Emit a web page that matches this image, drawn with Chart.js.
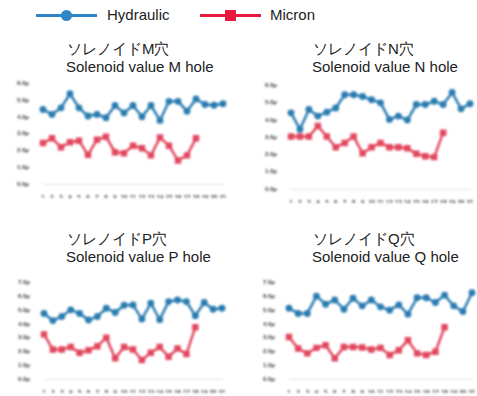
<!DOCTYPE html>
<html>
<head>
<meta charset="utf-8">
<script src="https://cdn.jsdelivr.net/npm/chart.js@4/dist/chart.umd.min.js"></script>
<style>
    body { margin: 0; width: 477px; height: 396px; background: #fff; position: relative; overflow: hidden;
           font-family: "Liberation Sans", Arial, sans-serif; color: #222; }
    .legend-item { position: absolute; top: 5px; height: 20px; }
    .legend-line { position: absolute; top: 9px; height: 3px; width: 61px; }
    .legend-mark { position: absolute; }
    .legend-text { position: absolute; top: 1px; font-size: 15px; white-space: nowrap; }
    .title { position: absolute; font-size: 15px; line-height: 18px; white-space: nowrap; }
    .title span { display: block; }
    .title .en { margin-left: -1px; }
    canvas.panel { position: absolute; filter: blur(0.85px); }
</style>
</head>
<body>

<div class="legend-item" style="left:36px">
    <div class="legend-line" style="background:#2e86c8"></div>
    <div class="legend-mark" style="left:25px;top:5px;width:11px;height:11px;border-radius:50%;background:#2e86c8"></div>
    <div class="legend-text" style="left:71px">Hydraulic</div>
</div>
<div class="legend-item" style="left:200px">
    <div class="legend-line" style="background:#e8193c"></div>
    <div class="legend-mark" style="left:25px;top:5px;width:11px;height:11px;background:#e8193c"></div>
    <div class="legend-text" style="left:70px">Micron</div>
</div>

<script>
// sample days on the x axis
const days = ['1', '2', '3', '4', '5', '6', '7', '8', '9', '10', '11',
              '12', '13', '14', '15', '16', '17', '18', '19', '20', '21'];

// M hole
const hydraulicM = [4.45, 4.16, 4.55, 5.39, 4.55, 4.06, 4.16, 3.96, 4.69, 4.25, 4.69,
                    4.02, 4.69, 3.80, 4.94, 4.94, 4.35, 5.08, 4.75, 4.71, 4.80];
const micronM = [2.45, 2.73, 2.20, 2.50, 2.59, 1.74, 2.65, 2.82, 1.90, 1.84, 2.29,
                 2.14, 1.71, 2.78, 2.29, 1.41, 1.71, 2.73];

// N hole
const hydraulicN = [4.42, 3.47, 4.61, 4.23, 4.46, 4.70, 5.47, 5.47, 5.37, 5.18, 5.00,
                    4.04, 4.23, 4.00, 4.90, 4.90, 5.09, 4.90, 5.60, 4.65, 4.95];
const micronN = [3.05, 3.05, 3.05, 3.66, 3.05, 2.42, 2.67, 3.05, 2.07, 2.42, 2.67,
                 2.42, 2.42, 2.36, 2.04, 1.90, 1.85, 3.27];

// P hole
const hydraulicP = [4.76, 4.24, 4.54, 5.02, 4.76, 4.28, 4.54, 5.14, 4.83, 5.35, 5.38,
                    4.35, 5.50, 4.31, 5.62, 5.74, 5.62, 4.59, 5.55, 5.07, 5.14];
const micronP = [3.24, 2.14, 2.14, 2.33, 1.90, 2.09, 2.38, 3.00, 1.50, 2.33, 2.14,
                 1.38, 1.90, 2.33, 1.62, 2.21, 1.81, 3.76];

// Q hole
const hydraulicQ = [5.14, 4.76, 4.76, 6.02, 5.43, 5.74, 5.07, 5.86, 5.31, 5.74, 5.24,
                    5.00, 5.38, 4.71, 5.90, 5.90, 5.55, 6.09, 5.31, 4.90, 6.26];
const micronQ = [3.05, 2.21, 1.86, 2.26, 2.45, 1.50, 2.33, 2.33, 2.29, 2.14, 2.26,
                 1.74, 2.09, 2.81, 1.86, 1.74, 1.98, 3.76];

const blue = '#2a7cb0';
const red = '#e2475e';

const panels = [
    { hole: 'M', hyd: hydraulicM, mic: micronM, yMax: 6, title: [67, 40], plot: [43, 82, 223, 184] },
    { hole: 'N', hyd: hydraulicN, mic: micronN, yMax: 6, title: [313, 40], plot: [291, 84, 470, 189] },
    { hole: 'P', hyd: hydraulicP, mic: micronP, yMax: 7, title: [67, 230], plot: [44, 281, 222, 379] },
    { hole: 'Q', hyd: hydraulicQ, mic: micronQ, yMax: 7, title: [313, 230], plot: [289, 281, 472, 379] },
];

const AXIS_W = 30, AXIS_H = 14, PAD = 8;

panels.forEach(p => {
    const t = document.createElement('div');
    t.className = 'title';
    t.style.left = p.title[0] + 'px';
    t.style.top = p.title[1] + 'px';
    t.innerHTML = '<span>ソレノイド' + p.hole + '穴</span><span class="en">Solenoid value ' + p.hole + ' hole</span>';
    document.body.appendChild(t);

    const [l, top, r, b] = p.plot;
    const c = document.createElement('canvas');
    c.className = 'panel';
    c.style.left = (l - AXIS_W) + 'px';
    c.style.top = (top - PAD) + 'px';
    c.style.width = (r - l + AXIS_W + PAD) + 'px';
    c.style.height = (b - top + PAD + AXIS_H) + 'px';
    document.body.appendChild(c);

    new Chart(c, {
        type: 'line',
        data: {
            labels: days,
            datasets: [{
                label: 'Hydraulic',
                data: p.hyd,
                borderColor: blue,
                backgroundColor: blue,
                borderWidth: 2.5,
                pointStyle: 'circle',
                pointRadius: 2.2,
                tension: 0,
            }, {
                label: 'Micron',
                data: p.mic,
                borderColor: red,
                backgroundColor: red,
                borderWidth: 2.5,
                pointStyle: 'rect',
                pointRadius: 2.8,
                tension: 0,
            }]
        },
        options: {
            responsive: false,
            animation: false,
            events: [],
            layout: { padding: { top: PAD, right: PAD } },
            plugins: { legend: { display: false }, tooltip: { enabled: false } },
            scales: {
                x: {
                    afterFit: s => { s.height = AXIS_H; },
                    grid: { display: false },
                    border: { color: '#e0e0e0', dash: [1, 2] },
                    ticks: { autoSkip: false, maxRotation: 0, padding: 2, color: '#333', font: { size: 6, weight: 'bold' } },
                },
                y: {
                    min: 0,
                    max: p.yMax,
                    afterFit: s => { s.width = AXIS_W; },
                    grid: { display: false },
                    border: { display: false },
                    ticks: {
                        stepSize: 1,
                        padding: 6,
                        color: '#333',
                        font: { size: 6, weight: 'bold' },
                        callback: v => v.toFixed(1) + 'μ',
                    },
                }
            }
        }
    });
});
</script>
</body>
</html>
